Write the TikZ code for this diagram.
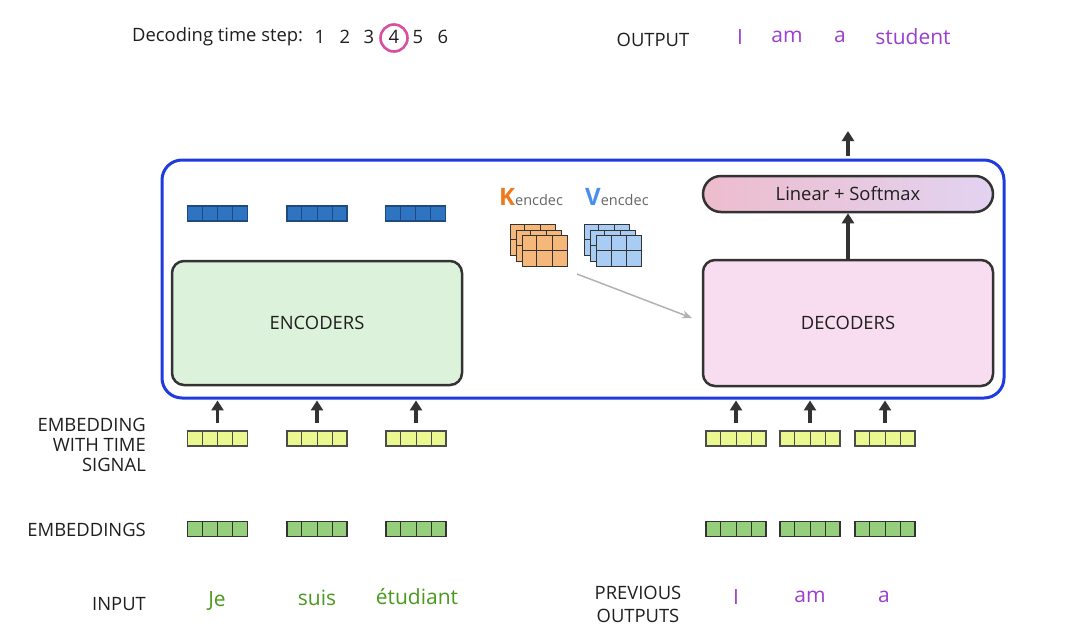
\documentclass[tikz,border=0pt]{standalone}
\usepackage{fontspec}
\setmainfont{Open Sans}
\usetikzlibrary{arrows.meta,calc}
\definecolor{boxblue}{HTML}{1F3BE0}
\definecolor{dk}{HTML}{333333}
\definecolor{encgreen}{HTML}{DDF2DA}
\definecolor{decpink}{HTML}{F8DDF0}
\definecolor{cblue}{HTML}{2E74C0}
\definecolor{cblueb}{HTML}{1E4A80}
\definecolor{cyel}{HTML}{EBF890}
\definecolor{cgreen}{HTML}{95CF7B}
\definecolor{corange}{HTML}{F5B77A}
\definecolor{clblue}{HTML}{A9CCF5}
\definecolor{wgreen}{HTML}{4A9A1E}
\definecolor{wpurple}{HTML}{9B3FD0}
\definecolor{korange}{HTML}{EE7A1E}
\definecolor{vblue}{HTML}{4A8FEA}
\definecolor{lblpink}{HTML}{EDBCCD}
\definecolor{lbllav}{HTML}{E2D3F1}
\definecolor{cpink}{HTML}{D94FA0}
\tikzset{
  fs/.style={font=\fontsize{#1}{22}\selectfont},
  vecbox/.style={draw=#1, line width=1.1pt, minimum width=60pt, minimum height=15pt, inner sep=0pt},
  mat/.style={draw=dk, line width=0.9pt, minimum width=45pt, minimum height=31pt, inner sep=0pt},
  stackbox/.style={draw=dk, line width=2.5pt, rounded corners=12pt, inner sep=0pt},
  uparrow/.style={draw=dk, line width=3.2pt, -{Triangle[width=12pt,length=10pt]}},
  lbl/.style={fs=18.4, text=black!88, inner sep=0pt},
  word/.style={fs=21, inner sep=0pt},
}
\newcommand{\cellsplit}[2]{%
  \foreach \f in {0.25,0.5,0.75}{%
    \draw[#2, line width=1pt] ($(#1.north west)!\f!(#1.north east)$) -- ($(#1.south west)!\f!(#1.south east)$);}}
\newcommand{\matgrid}[1]{%
  \foreach \f in {0.3333,0.6667}{%
    \draw[dk, line width=0.8pt] ($(#1.north west)!\f!(#1.north east)$) -- ($(#1.south west)!\f!(#1.south east)$);}
  \draw[dk, line width=0.8pt] (#1.west) -- (#1.east);}
\begin{document}
\begin{tikzpicture}[x=1pt,y=-1pt]
\useasboundingbox (0,0) rectangle (1080,630);
\fill[white] (0,0) rectangle (1080,630);

% top line
\node[lbl, anchor=west] (dts) at (132,37) {Decoding time step:};
\node[lbl] (n1) at (320,37) {1};
\node[lbl] (n2) at (345,37) {2};
\node[lbl] (n3) at (369,37) {3};
\node[lbl] (n4) at (394,37) {4};
\node[lbl] (n5) at (418,37) {5};
\node[lbl] (n6) at (443,37) {6};
\node[draw=cpink, line width=2.6pt, circle, minimum size=27pt, inner sep=0pt] (c4) at (394,38) {};

\node[lbl] (outlbl) at (653,40) {OUTPUT};
\node[word, text=wpurple] (o1) at (740,37) {I};
\node[word, text=wpurple] (o2) at (787,37) {am};
\node[word, text=wpurple] (o3) at (840,37) {a};
\node[word, text=wpurple] (o4) at (913,37) {student};

% big box
\node[draw=boxblue, line width=3pt, rounded corners=20pt, minimum width=842pt, minimum height=238pt, inner sep=0pt] (big) at (583,279) {};

% encoders / decoders
\node[stackbox, fill=encgreen, minimum width=290pt, minimum height=124pt, lbl] (enc) at (317,323) {ENCODERS};
\node[stackbox, fill=decpink, minimum width=290pt, minimum height=126pt, lbl] (dec) at (848,323) {DECODERS};
\node[draw=dk, line width=2.5pt, rounded corners=18pt, left color=lblpink, right color=lbllav, minimum width=290pt, minimum height=36pt, inner sep=0pt, lbl] (lin) at (848,194) {Linear + Softmax};

\draw[uparrow] (dec.north) -- (lin.south);
\coordinate (topa) at ($(lin.north |- big.north)+(0,-3)$);
\coordinate (topb) at (848,131);
\draw[uparrow] (topa) -- (topb);

% encoder outputs
\foreach \n/\x in {b1/217.5,b2/317,b3/415.5}{
  \node[vecbox=cblueb, fill=cblue] (\n) at (\x,213.5) {};
  \cellsplit{\n}{cblueb}
}

% K and V
\node[mat, fill=corange] (k3) at (532.5,239.5) {}; \matgrid{k3}
\node[mat, fill=corange] (k2) at (538.5,245.5) {}; \matgrid{k2}
\node[mat, fill=corange] (k1) at (544.5,250.5) {}; \matgrid{k1}
\node[mat, fill=clblue] (v3) at (606.5,239.5) {}; \matgrid{v3}
\node[mat, fill=clblue] (v2) at (612.5,245.5) {}; \matgrid{v2}
\node[mat, fill=clblue] (v1) at (619,250.5) {}; \matgrid{v1}
\node[inner sep=0pt, anchor=base west] (klbl) at (499,205) {\textcolor{korange}{\fontsize{24}{24}\selectfont\bfseries K}\textcolor{black!60}{\fontsize{14.5}{15}\selectfont encdec}};
\node[inner sep=0pt, anchor=base west] (vlbl) at (585,205) {\textcolor{vblue}{\fontsize{24}{24}\selectfont\bfseries V}\textcolor{black!60}{\fontsize{14.5}{15}\selectfont encdec}};

\coordinate (ga) at (577,274);
\coordinate (gb) at (692,318);
\draw[black!30, line width=1.5pt, -{Stealth[length=10pt,width=8pt]}] (ga) -- (gb);

% embeddings
\foreach \n/\x in {1/217.5,2/317,3/416,4/736,5/810,6/885}{
  \node[vecbox=black!70, fill=cyel] (ye\n) at (\x,438.5) {};
  \cellsplit{ye\n}{black!70}
  \node[vecbox=black!80, fill=cgreen] (ge\n) at (\x,529) {};
  \cellsplit{ge\n}{black!80}
  \coordinate (ea\n) at ($(ye\n.north)+(0,-7)$);
  \coordinate (eb\n) at ($(ye\n.north)+(0,-30)$);
  \draw[uparrow] (ea\n) -- (eb\n);
}

% labels
\node[lbl, anchor=east, align=right] (lemb) at (146,445) {EMBEDDING\\[-2pt]WITH TIME\\[-2pt]SIGNAL};
\node[lbl, anchor=east] (lembs) at (146,530) {EMBEDDINGS};
\node[lbl] (linput) at (119,604) {INPUT};
\node[lbl, align=center] (lprev) at (638,604) {PREVIOUS\\[1pt]OUTPUTS};

\node[word, text=wgreen] (w1) at (217,601) {Je};
\node[word, text=wgreen] (w2) at (317,598) {suis};
\node[word, text=wgreen] (w3) at (417,597) {étudiant};
\node[word, text=wpurple] (p1) at (736,597) {I};
\node[word, text=wpurple] (p2) at (810,597) {am};
\node[word, text=wpurple] (p3) at (884,597) {a};
\end{tikzpicture}
\end{document}
